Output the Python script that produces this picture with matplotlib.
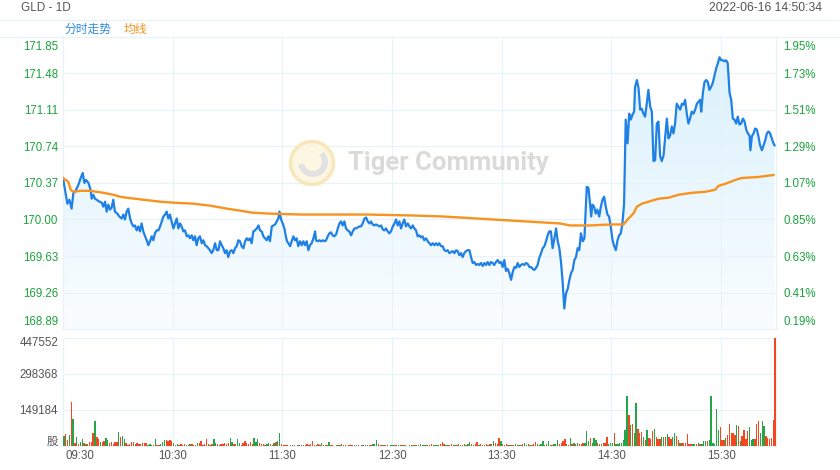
import numpy as np
import matplotlib
matplotlib.use('Agg')
import matplotlib.pyplot as plt
from matplotlib.patches import Circle, Wedge, Polygon
from matplotlib.lines import Line2D
from matplotlib.colors import LinearSegmentedColormap
from matplotlib.transforms import blended_transform_factory, offset_copy

plt.rcParams['font.family'] = ['Liberation Sans', 'Noto Sans CJK SC', 'DejaVu Sans']

# ---- data ----
# minutes after 09:30 and last price
price_min = [
    0.0, 2.4, 3.5, 4.7, 5.7, 6.6, 8.4, 9.7, 10.8, 11.7, 12.6, 13.9, 15.1, 15.7, 16.6, 17.5, 18.4, 19.9,
    21.2, 22.1, 23.0, 23.9, 24.8, 25.7, 26.6, 27.5, 28.4, 29.7, 30.8, 32.1, 33.0, 33.9, 34.8, 35.7,
    36.7, 37.6, 38.5, 39.4, 40.3, 41.2, 42.1, 43.0, 43.9, 44.9, 45.8, 46.7, 47.6, 48.5, 49.4, 50.3,
    51.2, 52.2, 53.1, 54.0, 54.9, 55.8, 56.7, 57.6, 58.5, 59.4, 60.4, 61.3, 62.2, 63.1, 64.0, 64.9,
    65.8, 66.7, 67.7, 68.6, 69.5, 70.4, 71.3, 72.2, 73.1, 74.0, 74.9, 75.9, 76.8, 77.7, 78.6, 79.5,
    80.4, 81.3, 82.2, 83.2, 84.1, 85.0, 85.9, 86.8, 87.7, 88.6, 89.5, 90.4, 91.4, 92.3, 93.2, 94.1,
    95.0, 95.9, 96.8, 97.7, 98.7, 99.6, 100.5, 101.4, 102.3, 103.2, 104.1, 105.0, 106.0, 106.9,
    107.8, 108.7, 109.6, 110.5, 111.4, 112.3, 113.2, 114.2, 115.1, 116.0, 116.9, 117.8, 118.4,
    119.3, 120.2, 121.1, 121.8, 122.5, 123.3, 124.2, 125.1, 126.0, 126.9, 127.8, 128.7, 129.7,
    130.6, 131.5, 132.4, 133.3, 134.2, 135.1, 136.0, 137.0, 137.9, 138.4, 139.3, 140.2, 141.1,
    142.1, 143.0, 143.9, 144.8, 145.7, 146.6, 147.5, 148.4, 149.4, 150.3, 151.2, 152.1, 153.0,
    153.9, 154.8, 155.7, 156.6, 157.6, 158.5, 159.4, 160.3, 161.2, 162.1, 163.0, 163.9, 164.9,
    165.8, 166.7, 167.6, 168.5, 169.4, 170.3, 171.2, 172.1, 173.1, 174.0, 174.9, 175.8, 176.7,
    177.6, 178.5, 179.4, 180.4, 181.3, 182.2, 183.1, 184.0, 184.9, 185.8, 186.7, 187.6, 188.6,
    189.5, 190.4, 191.3, 192.2, 193.1, 194.0, 194.9, 195.8, 196.7, 197.6, 198.6, 199.5, 200.4,
    201.3, 202.2, 203.1, 204.0, 204.9, 205.8, 206.8, 207.7, 208.6, 209.5, 210.4, 211.3, 212.2,
    213.1, 214.1, 215.0, 215.9, 216.8, 217.7, 218.6, 219.5, 220.4, 221.3, 222.3, 223.2, 224.1,
    225.0, 225.9, 226.8, 227.7, 228.6, 229.6, 230.5, 231.4, 232.3, 233.2, 234.1, 235.0, 235.9,
    236.8, 237.8, 238.7, 239.6, 240.5, 241.4, 242.3, 243.2, 244.1, 245.1, 246.0, 246.9, 247.8,
    248.7, 249.6, 250.5, 251.4, 252.3, 253.3, 254.2, 255.1, 256.0, 256.9, 257.8, 258.7, 259.6,
    260.5, 261.5, 262.4, 263.3, 264.2, 265.1, 266.0, 266.9, 267.8, 268.8, 269.7, 270.6, 271.5,
    272.4, 273.3, 274.2, 275.1, 276.1, 277.0, 277.9, 278.8, 279.7, 280.6, 281.5, 282.4, 283.3,
    284.3, 285.2, 286.5, 287.4, 288.3, 288.9, 289.6, 290.5, 291.4, 292.3, 293.3, 294.2, 295.1,
    296.0, 296.9, 297.8, 298.7, 299.6, 300.6, 301.5, 302.4, 303.3, 304.2, 305.1, 306.0, 306.9,
    307.8, 308.8, 309.7, 310.6, 311.5, 312.4, 312.9, 313.9, 314.8, 315.7, 316.6, 317.5, 318.4,
    319.3, 320.2, 321.2, 322.1, 323.0, 323.9, 324.8, 325.7, 326.6, 327.5, 328.5, 329.4, 330.3,
    331.2, 332.1, 333.0, 333.9, 334.8, 335.7, 336.7, 337.6, 338.5, 339.4, 340.3, 341.2, 342.1,
    343.0, 343.9, 344.9, 345.8, 346.7, 347.6, 348.5, 349.1, 350.0, 350.9, 351.8, 352.7, 353.6,
    354.5, 355.4, 356.4, 357.3, 358.2, 359.1, 360.0, 360.9, 361.8, 362.7, 363.6, 364.6, 365.5,
    366.4, 367.3, 368.2, 369.1, 370.0, 370.9, 371.9, 372.8, 373.7, 374.6, 375.5, 376.0, 376.8,
    377.7, 378.6, 379.5, 380.4, 381.3, 382.3, 383.2, 384.1, 385.0, 385.9, 386.8, 387.7, 388.6,
    389.2,
]
price = [
    170.42, 170.16, 170.20, 170.11, 170.27, 170.28, 170.35, 170.42, 170.47, 170.37, 170.40, 170.37,
    170.30, 170.21, 170.25, 170.21, 170.20, 170.18, 170.17, 170.13, 170.18, 170.08, 170.15, 170.10,
    170.12, 170.20, 170.08, 170.06, 170.03, 170.01, 170.05, 170.00, 170.08, 170.11, 170.01, 169.96,
    169.93, 169.94, 169.89, 169.93, 169.88, 169.96, 169.88, 169.83, 169.79, 169.74, 169.78, 169.83,
    169.79, 169.86, 169.89, 169.89, 169.93, 169.98, 170.03, 170.05, 170.08, 170.01, 170.05, 169.98,
    169.91, 169.96, 170.01, 169.91, 169.96, 169.93, 169.88, 169.89, 169.83, 169.84, 169.81, 169.84,
    169.79, 169.83, 169.74, 169.81, 169.83, 169.76, 169.79, 169.74, 169.73, 169.71, 169.69, 169.66,
    169.69, 169.76, 169.69, 169.69, 169.78, 169.74, 169.71, 169.66, 169.69, 169.62, 169.68, 169.69,
    169.66, 169.71, 169.73, 169.79, 169.78, 169.73, 169.71, 169.78, 169.81, 169.79, 169.81, 169.76,
    169.88, 169.89, 169.91, 169.94, 169.89, 169.88, 169.83, 169.81, 169.79, 169.83, 169.78, 169.93,
    169.94, 169.95, 169.98, 170.01, 170.08, 170.00, 169.96, 169.91, 169.84, 169.78, 169.76, 169.73,
    169.78, 169.83, 169.79, 169.81, 169.73, 169.78, 169.74, 169.78, 169.74, 169.78, 169.69, 169.74,
    169.76, 169.81, 169.88, 169.79, 169.78, 169.79, 169.78, 169.79, 169.78, 169.79, 169.83, 169.86,
    169.87, 169.84, 169.83, 169.85, 169.91, 169.96, 169.98, 169.94, 169.98, 169.91, 169.89, 169.88,
    169.84, 169.88, 169.91, 169.91, 169.92, 169.93, 169.93, 169.96, 170.01, 170.02, 169.98, 169.96,
    169.98, 169.95, 169.94, 169.95, 169.94, 169.93, 169.94, 169.90, 169.89, 169.91, 169.88, 169.86,
    169.88, 169.93, 169.96, 170.00, 169.94, 169.98, 169.91, 169.96, 170.00, 169.93, 169.96, 169.93,
    169.91, 169.94, 169.91, 169.89, 169.83, 169.84, 169.82, 169.83, 169.79, 169.81, 169.78, 169.76,
    169.74, 169.76, 169.74, 169.76, 169.74, 169.76, 169.73, 169.73, 169.69, 169.68, 169.69, 169.66,
    169.67, 169.68, 169.66, 169.69, 169.68, 169.64, 169.66, 169.62, 169.66, 169.68, 169.69, 169.69,
    169.62, 169.56, 169.57, 169.54, 169.55, 169.54, 169.56, 169.53, 169.56, 169.54, 169.57, 169.54,
    169.57, 169.56, 169.54, 169.57, 169.59, 169.56, 169.57, 169.52, 169.59, 169.48, 169.50, 169.46,
    169.39, 169.47, 169.52, 169.51, 169.56, 169.52, 169.54, 169.55, 169.54, 169.56, 169.55, 169.52,
    169.52, 169.50, 169.49, 169.51, 169.54, 169.61, 169.66, 169.71, 169.73, 169.78, 169.84, 169.88,
    169.88, 169.71, 169.81, 169.91, 169.78, 169.71, 169.57, 169.37, 169.10, 169.25, 169.30, 169.39,
    169.46, 169.49, 169.59, 169.62, 169.71, 169.69, 169.86, 169.78, 169.81, 170.33, 170.32, 170.16,
    170.03, 170.15, 170.13, 170.06, 170.10, 170.03, 170.13, 170.20, 170.23, 170.13, 170.05, 170.03,
    169.93, 169.79, 169.73, 169.69, 169.79, 169.84, 169.86, 169.96, 170.16, 171.01, 170.77, 171.07,
    171.01, 171.06, 171.09, 171.34, 171.41, 171.33, 171.11, 171.12, 171.07, 171.04, 171.17, 171.31,
    171.14, 171.09, 170.59, 170.60, 170.97, 170.99, 170.64, 170.59, 170.65, 170.84, 171.02, 170.82,
    170.85, 170.94, 170.87, 170.97, 171.17, 171.14, 171.11, 171.17, 171.16, 171.21, 171.07, 170.97,
    171.02, 171.09, 171.07, 171.11, 171.17, 171.19, 171.21, 171.09, 171.28, 171.39, 171.41, 171.39,
    171.31, 171.34, 171.38, 171.46, 171.53, 171.58, 171.64, 171.61, 171.61, 171.60, 171.61, 171.58,
    171.28, 171.21, 171.02, 171.01, 170.97, 171.04, 170.96, 170.97, 171.02, 170.99, 170.91, 170.87,
    170.85, 170.70, 170.84, 170.87, 170.92, 170.91, 170.84, 170.75, 170.70, 170.75, 170.80, 170.87,
    170.89, 170.87, 170.82, 170.77, 170.75,
]

# average price line
avg_min = [0, 2.9, 4.2, 5.7, 9.3, 14.8, 22.1, 27.5, 31.2, 34.8, 43.9, 53.1, 60.4, 71.3, 80.4, 89.5,
           96.8, 103.2, 112.3, 130.6, 148.8, 167.0, 192.6, 208.0, 226.3, 235.4, 244.5, 262.7, 271.9,
           277.3, 288.3, 300.2, 306.6, 309.3, 312.0, 313.9, 316.6, 320.2, 325.7, 331.2, 336.7, 344.0,
           351.2, 356.7, 358.5, 362.2, 367.7, 371.3, 380.4, 388.6]
avg_price = [170.42, 170.38, 170.30, 170.28, 170.29, 170.29, 170.27, 170.25, 170.23, 170.22, 170.20,
             170.18, 170.17, 170.16, 170.14, 170.11, 170.09, 170.07, 170.06, 170.05, 170.05, 170.05,
             170.04, 170.03, 170.01, 170.00, 169.99, 169.97, 169.96, 169.94, 169.94, 169.95, 169.95,
             170.01, 170.06, 170.13, 170.16, 170.18, 170.21, 170.22, 170.25, 170.27, 170.28, 170.30,
             170.34, 170.36, 170.40, 170.42, 170.43, 170.45]

# volume per minute (thousand shares) and bar colour: r = up, g = down
vol_k = [
    41, 50, 25, 45, 184, 111, 12, 37, 10, 15, 28, 12, 10, 8, 16, 18, 53, 104, 37, 28,
    17, 18, 21, 32, 25, 12, 18, 10, 18, 18, 59, 37, 41, 28, 12, 4, 8, 18, 18, 10,
    11, 8, 7, 11, 14, 11, 6, 8, 6, 4, 28, 4, 4, 8, 18, 25, 25, 22, 25, 21,
    12, 6, 8, 4, 10, 6, 8, 4, 6, 10, 8, 6, 4, 14, 12, 20, 6, 8, 29, 10,
    6, 8, 29, 12, 8, 6, 10, 10, 14, 8, 12, 32, 16, 10, 8, 28, 12, 6, 14, 20,
    12, 8, 16, 10, 32, 16, 28, 12, 8, 10, 6, 8, 12, 10, 6, 14, 16, 20, 53, 8,
    6, 4, 3, 2, 3, 4, 3, 2, 4, 6, 5, 6, 4, 8, 6, 10, 21, 6, 4, 8,
    6, 12, 4, 6, 3, 18, 6, 4, 2, 3, 4, 6, 8, 5, 3, 2, 3, 4, 6, 4,
    3, 4, 2, 3, 5, 4, 6, 3, 4, 8, 10, 25, 8, 6, 4, 6, 3, 4, 2, 3,
    6, 4, 3, 5, 3, 4, 6, 3, 2, 6, 4, 6, 3, 4, 5, 8, 4, 6, 6, 4,
    6, 8, 4, 6, 4, 6, 8, 15, 10, 6, 4, 6, 8, 6, 4, 6, 10, 6, 4, 10,
    6, 8, 15, 8, 6, 8, 15, 6, 8, 4, 6, 8, 4, 10, 8, 20, 12, 8, 33, 20,
    8, 6, 8, 4, 6, 6, 4, 8, 6, 6, 6, 8, 12, 6, 8, 4, 6, 8, 18, 8,
    6, 8, 22, 6, 10, 20, 6, 4, 8, 10, 25, 8, 12, 20, 30, 10, 6, 35, 10, 12,
    10, 14, 8, 10, 12, 14, 62, 20, 32, 14, 35, 25, 12, 8, 10, 12, 14, 36, 8, 12,
    14, 52, 10, 10, 12, 12, 25, 66, 207, 128, 87, 90, 53, 177, 69, 53, 58, 36, 25, 66,
    35, 30, 64, 69, 36, 28, 28, 36, 36, 36, 50, 39, 28, 36, 55, 41, 25, 14, 14, 14,
    14, 50, 10, 10, 10, 10, 10, 14, 10, 10, 20, 20, 22, 25, 207, 14, 10, 153, 66, 78,
    25, 25, 35, 45, 91, 52, 55, 45, 86, 83, 20, 42, 66, 28, 63, 80, 25, 28, 30, 90,
    105, 52, 104, 83, 40, 35, 30, 35, 108, 447.552,
]
vol_dir = (
    "grrgrgrgrg" "grgrrrrgrr" "grrggrrrrr" "grggrrrrrg" "rrrrrrgggr" "grrgggrrrr"
    "grgrrrrgrg" "rrrgrrrrrg" "rrggrgrrrr" "rggrrggrrr" "rrrrgggrrr" "rggrrgrggr"
    "rrrrrgrrgr" "rgrrrrrrgr" "rgrgrgrrrr" "ggrrrrrrrg" "rrrgrrgrrg" "ggrrrgrrrg"
    "grrgrrgrrr" "rgrrggrggr" "rrrggrrrrg" "grrrgrgrrg" "rggrgrrgrr" "rrgrggrrrg"
    "rgrrgrrgrg" "rrggrgrrrg" "rggrggrrgg" "grrrrgrgrg" "rgrrrgggrg" "ggrrgrrrgg"
    "grgggggggr" "grggrrrgrg" "rrrgrrrggr" "grrggrrgrr" "rrrrggrgrg" "ggrggggggr"
    "rrgrrrrrgr" "grrrrgggrr" "rgggrrrrrr"
)

price_ticks = [168.89, 169.26, 169.63, 170.00, 170.37, 170.74, 171.11, 171.48, 171.85]
pct_labels = ['0.19%', '0.41%', '0.63%', '0.85%', '1.07%', '1.29%', '1.51%', '1.73%', '1.95%']
vol_ticks = [0, 149184, 298368, 447552]
vol_labels = ['股', '149184', '298368', '447552']
hour_ticks = [0, 60, 120, 180, 240, 300, 360]
hour_labels = ['09:30', '10:30', '11:30', '12:30', '13:30', '14:30', '15:30']

# ---- style ----
BLUE = '#1f80e6'
ORANGE = '#f7931e'
GREEN_TXT = '#1ba33c'
GRAY_TXT = '#555555'
GRID = '#e8f3f9'
UP = '#f4461f'
DOWN = '#23a548'

fig = plt.figure(figsize=(8.4, 4.7), dpi=100)
ax = fig.add_axes([63 / 840, 1 - 329.3 / 470, 713 / 840, 292.8 / 470])
axv = fig.add_axes([63 / 840, 1 - 446 / 470, 713 / 840, 108 / 470])

ymin, ymax = price_ticks[0], price_ticks[-1]

# gradient fill under the price line
x = np.array(price_min)
y = np.array(price)
verts = np.column_stack([np.r_[x, x[-1], x[0]], np.r_[y, ymin, ymin]])
clip = Polygon(verts, closed=True, facecolor='none', edgecolor='none')
ax.add_patch(clip)
cmap = LinearSegmentedColormap.from_list('fill', ['#fafdff', '#d8f0fc'])
grad = np.linspace(1, 0, 256).reshape(-1, 1)
im = ax.imshow(grad, extent=[0, 390, ymin, ymax], aspect='auto', cmap=cmap,
               origin='upper', zorder=1, interpolation='bilinear')
im.set_clip_path(clip)

ax.plot(price_min, price, color=BLUE, lw=1.6, zorder=4, solid_joinstyle='round')
ax.plot(avg_min, avg_price, color=ORANGE, lw=1.7, zorder=5)

ax.set_xlim(0, 390)
ax.set_ylim(ymin, ymax)
ax.set_xticks(hour_ticks)
ax.set_yticks(price_ticks)
ax.grid(True, color=GRID, lw=0.8, zorder=0)
ax.tick_params(length=0, labelleft=False, labelbottom=False)
for s in ax.spines.values():
    s.set_color(GRID)
    s.set_linewidth(0.8)

# volume bars
colors = [UP if c == 'r' else DOWN for c in vol_dir]
vol = np.array(vol_k) * 1000
axv.bar(np.arange(len(vol)) + 0.5, vol, width=0.75, color=colors, linewidth=0, zorder=3)
axv.set_xlim(0, 390)
axv.set_ylim(0, vol_ticks[-1])
axv.set_xticks(hour_ticks)
axv.set_yticks(vol_ticks)
axv.grid(True, color=GRID, lw=0.8, zorder=0)
axv.tick_params(length=0, labelleft=False, labelbottom=False)
for s in axv.spines.values():
    s.set_color(GRID)
    s.set_linewidth(0.8)


def side_labels(a, ticks, labels, xpos, ha, color, first_dy, last_dy):
    tr = blended_transform_factory(a.transAxes, a.transData)
    n = len(ticks)
    for i, (t, s) in enumerate(zip(ticks, labels)):
        dy = -1.5
        if i == 0:
            dy = first_dy
        elif i == n - 1:
            dy = last_dy
        a.text(xpos, t, s, transform=offset_copy(tr, fig=fig, x=0, y=dy, units='dots'),
               ha=ha, va='center', fontsize=8.3, color=color, clip_on=False)


side_labels(ax, price_ticks, ['%.2f' % t for t in price_ticks], -5 / 713, 'right',
            GREEN_TXT, 7, -10.5)
side_labels(ax, price_ticks, pct_labels, 1 + 7 / 713, 'left', GREEN_TXT, 7, -10.5)
side_labels(axv, vol_ticks, vol_labels, -5 / 713, 'right', GRAY_TXT, 4, -5)

# time labels
trx = blended_transform_factory(axv.transData, axv.transAxes)
for t, s in zip(hour_ticks, hour_labels):
    ha = 'left' if t == 0 else 'center'
    dx = 2 if t == 0 else 0
    axv.text(t, 0, s, transform=offset_copy(trx, fig=fig, x=dx, y=-10, units='dots'),
             ha=ha, va='center', fontsize=8.3, color=GRAY_TXT, clip_on=False)

# header
fig.add_artist(Line2D([0, 1], [1 - 20 / 470] * 2, transform=fig.transFigure, color=GRID, lw=0.8))
fig.add_artist(Line2D([0, 1], [1 - 37 / 470] * 2, transform=fig.transFigure, color=GRID, lw=0.8))
fig.text(21 / 840, 1 - 8 / 470, 'GLD - 1D', ha='left', va='center', fontsize=8.5, color=GRAY_TXT)
fig.text(822 / 840, 1 - 8 / 470, '2022-06-16 14:50:34', ha='right', va='center', fontsize=8.7,
         color=GRAY_TXT)
fig.text(64 / 840, 1 - 29.5 / 470, '分时走势', ha='left', va='center', fontsize=8.5,
         color='#2f8ae5', family=['Noto Sans CJK SC'])
fig.text(124 / 840, 1 - 29.5 / 470, '均线', ha='left', va='center', fontsize=8.5,
         color=ORANGE, family=['Noto Sans CJK SC'])

# watermark
cx, cy = 3.12, 4.7 - 1.63
fig.add_artist(Circle((cx, cy), 0.215, transform=fig.dpi_scale_trans, facecolor='#fdf6e2',
                      edgecolor='#f8e7b8', lw=2.5, zorder=1))
fig.add_artist(Wedge((cx + 0.01, cy + 0.01), 0.15, 190, 45, width=0.06,
                     transform=fig.dpi_scale_trans, facecolor='#e2e2e2', edgecolor='none',
                     zorder=2))
fig.text(348 / 840, 1 - 163 / 470, 'Tiger Community', ha='left', va='center', fontsize=18.5,
         fontweight='bold', color='#dadada', family=['Roboto', 'DejaVu Sans'], zorder=1)

fig.savefig('out.png', dpi=100)
